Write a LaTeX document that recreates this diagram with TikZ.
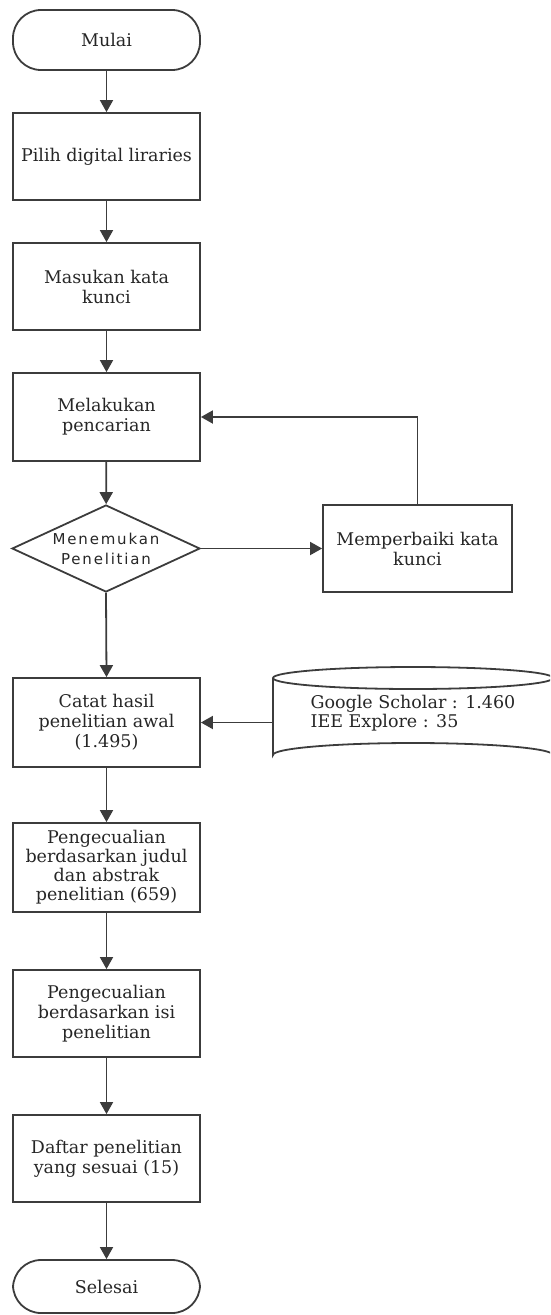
\documentclass[tikz,border=0pt]{standalone}
\usepackage{fontspec}
\setmainfont{DejaVu Serif}
\newfontfamily\decfont[LetterSpace=12,Ligatures=NoCommon]{DejaVu Sans}
\usetikzlibrary{arrows.meta,shapes.geometric}
\definecolor{ln}{HTML}{3C3C3C}
\definecolor{tx}{HTML}{262626}
\tikzset{
  base/.style={draw=ln, line width=1.8pt, text=tx, align=center, font=\fontsize{17.5}{20}\selectfont, inner sep=2pt},
  procbox/.style={base, rectangle, minimum width=187pt, minimum height=87pt},
  termbox/.style={base, rectangle, rounded corners=28pt, minimum width=187pt},
  decbox/.style={base, diamond, shape aspect=2.16, minimum width=188pt, minimum height=87pt, inner sep=0pt, font=\decfont\fontsize{15}{20}\selectfont},
  arr/.style={draw=ln, line width=1.8pt, -{Triangle[width=13pt,length=12pt]}},
}
\begin{document}
\begin{tikzpicture}[x=1pt,y=-1pt]
\useasboundingbox (0,0) rectangle (550,1315);
\node[termbox, minimum height=60pt] (mulai) at (106.5,40) {Mulai};
\node[procbox] (pilih) at (106.5,156.5) {Pilih digital liraries};
\node[procbox] (masuk) at (106.5,286.5) {Masukan kata\\kunci};
\node[procbox, minimum height=88pt] (cari) at (106.5,417) {Melakukan\\pencarian};
\node[decbox] (temu) at (106,548.5) {Menemukan\\Penelitian};
\node[procbox, minimum width=189pt] (baik) at (417.5,548.5) {Memperbaiki kata\\kunci};
\node[procbox, minimum height=89pt] (catat) at (106.5,722.5) {Catat hasil\\penelitian awal\\(1.495)};
\node[procbox, minimum height=89pt, font=\fontsize{17.5}{19}\selectfont] (peng1) at (106.5,867.5) {Pengecualian\\berdasarkan judul\\dan abstrak\\penelitian (659)};
\node[procbox] (peng2) at (106.5,1013.5) {Pengecualian\\berdasarkan isi\\penelitian};
\node[procbox] (daftar) at (106.5,1158.5) {Daftar penelitian\\yang sesuai (15)};
\node[termbox, minimum height=53pt] (selesai) at (106.5,1286.5) {Selesai};
% database cylinder (cut by the right edge)
\begin{scope}
\clip (0,0) rectangle (550,1315);
\draw[ln, line width=1.8pt] (413,678) ellipse [x radius=140, y radius=11];
\draw[ln, line width=1.8pt] (273,678) -- (273,755) arc[start angle=180, end angle=360, x radius=140, y radius=12] -- (553,678);
\end{scope}
\node[inner sep=0pt, minimum width=280pt, minimum height=89pt, align=left, text=tx, font=\fontsize{17.5}{19.5}\selectfont] (db) at (413,713)
  {Google Scholar : 1.460\\IEE Explore : 35};
\coordinate (loopc) at (baik.north |- cari.east);
\draw[arr] (mulai) -- (pilih);
\draw[arr] (pilih) -- (masuk);
\draw[arr] (masuk) -- (cari);
\draw[arr] (cari) -- (temu);
\draw[arr] (temu.east) -- (baik.west);
\draw[arr] (baik.north) -- (loopc) -- (cari.east);
\draw[arr] (temu.south) -- (catat.north);
\draw[arr] (db.west |- catat.east) -- (catat.east);
\draw[arr] (catat) -- (peng1);
\draw[arr] (peng1) -- (peng2);
\draw[arr] (peng2) -- (daftar);
\draw[arr] (daftar) -- (selesai);
\end{tikzpicture}
\end{document}
